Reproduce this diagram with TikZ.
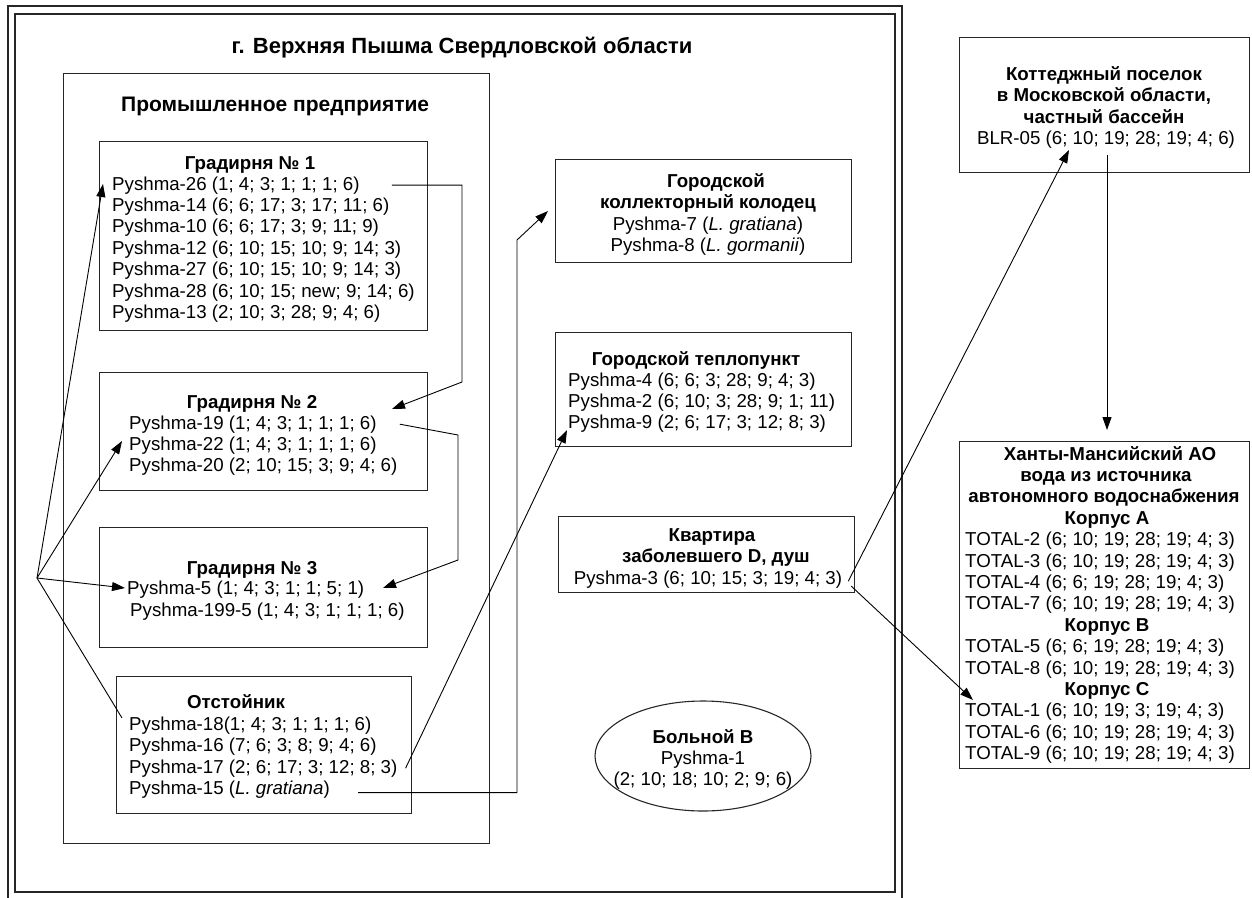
\documentclass[tikz,border=0pt]{standalone}
\usepackage{fontspec}
\setmainfont{Liberation Sans}
\usetikzlibrary{arrows.meta,shapes.geometric}
\newcommand\fs{\fontsize{18.7}{21.4}\selectfont}
\begin{document}
\begin{tikzpicture}[x=1pt,y=-1pt,
  frame/.style={draw=black!85, line width=1.2pt},
  box/.style={draw=black!85, line width=1.3pt, rectangle, inner sep=0pt, anchor=north west},
  tl/.style={anchor=base west, inner sep=0pt, font=\fs},
  tc/.style={anchor=base, inner sep=0pt, font=\fs},
  tb/.style={anchor=base, inner sep=0pt, font=\fs\bfseries},
  conn/.style={line width=0.9pt},
  arr/.style={conn, -{Triangle[length=13pt,width=9pt]}}]
\useasboundingbox (0,0) rectangle (1252,897);
% frames
\draw[frame] (8,6) rectangle (902,915);
\draw[frame] (15,14) rectangle (895,892);
\node[tb, font=\fontsize{22}{26}\selectfont\bfseries] (title) at (462,53) {г. Верхняя Пышма Свердловской области};
% industrial enterprise
\node[box, minimum width=426pt, minimum height=770pt] (ind) at (63,73) {};
\node[tl, font=\fontsize{21}{24}\selectfont\bfseries] (indt) at (121,111) {Промышленное предприятие};
% Gradirnya 1
\node[box, minimum width=328pt, minimum height=189pt] (g1) at (99,141) {};
\node[tb] (g1t) at (250,169) {Градирня № 1};
\node[tl] (p26) at (112,190) {Pyshma-26 (1; 4; 3; 1; 1; 1; 6)};
\node[tl] (p14) at (112,211.4) {Pyshma-14 (6; 6; 17; 3; 17; 11; 6)};
\node[tl] (p10) at (112,232.8) {Pyshma-10 (6; 6; 17; 3; 9; 11; 9)};
\node[tl] (p12) at (112,254.2) {Pyshma-12 (6; 10; 15; 10; 9; 14; 3)};
\node[tl] (p27) at (112,275.6) {Pyshma-27 (6; 10; 15; 10; 9; 14; 3)};
\node[tl] (p28) at (112,297) {Pyshma-28 (6; 10; 15; new; 9; 14; 6)};
\node[tl] (p13) at (112,318.4) {Pyshma-13 (2; 10; 3; 28; 9; 4; 6)};
% Gradirnya 2
\node[box, minimum width=328pt, minimum height=118pt] (g2) at (99,372) {};
\node[tb] (g2t) at (252,408) {Градирня № 2};
\node[tl] (p19) at (129,429) {Pyshma-19 (1; 4; 3; 1; 1; 1; 6)};
\node[tl] (p22) at (129,450) {Pyshma-22 (1; 4; 3; 1; 1; 1; 6)};
\node[tl] (p20) at (129,471) {Pyshma-20 (2; 10; 15; 3; 9; 4; 6)};
% Gradirnya 3
\node[box, minimum width=328pt, minimum height=120pt] (g3) at (99,527) {};
\node[tb] (g3t) at (252,574) {Градирня № 3};
\node[tl] (p5) at (127,594.5) {Pyshma-5 (1; 4; 3; 1; 1; 5; 1)};
\node[tl] (p199) at (130,616) {Pyshma-199-5 (1; 4; 3; 1; 1; 1; 6)};
% Otstoynik
\node[box, minimum width=295pt, minimum height=137pt] (ot) at (116,676) {};
\node[tb] (ott) at (236,708) {Отстойник};
\node[tl] (p18) at (129,730) {Pyshma-18(1; 4; 3; 1; 1; 1; 6)};
\node[tl] (p16) at (129,751.5) {Pyshma-16 (7; 6; 3; 8; 9; 4; 6)};
\node[tl] (p17) at (129,773) {Pyshma-17 (2; 6; 17; 3; 12; 8; 3)};
\node[tl] (p15) at (129,794.5) {Pyshma-15 (\textit{L. gratiana})};
% Kollektor
\node[box, minimum width=296pt, minimum height=103pt] (kol) at (555,159) {};
\node[tb] (kol1) at (716,187) {Городской};
\node[tb] (kol2) at (708,208.5) {коллекторный колодец};
\node[tc] (p7) at (708,230) {Pyshma-7 (\textit{L. gratiana})};
\node[tc] (p8) at (708,251.5) {Pyshma-8 (\textit{L. gormanii})};
% Teplopunkt
\node[box, minimum width=296pt, minimum height=114pt] (tep) at (555,332) {};
\node[tb] (tept) at (696,365) {Городской теплопункт};
\node[tl] (p4) at (568,386) {Pyshma-4 (6; 6; 3; 28; 9; 4; 3)};
\node[tl] (p2) at (568,407) {Pyshma-2 (6; 10; 3; 28; 9; 1; 11)};
\node[tl] (p9) at (568,428) {Pyshma-9 (2; 6; 17; 3; 12; 8; 3)};
% Kvartira
\node[box, minimum width=296pt, minimum height=76pt] (kv) at (558,516) {};
\node[tb] (kv1) at (712,541) {Квартира};
\node[tb] (kv2) at (716,562) {заболевшего D, душ};
\node[tc] (p3) at (708,584) {Pyshma-3 (6; 10; 15; 3; 19; 4; 3)};
% Patient B
\node[draw=black!85, line width=1.1pt, ellipse, minimum width=216pt, minimum height=110pt, inner sep=0pt] (bol) at (703,756) {};
\node[tb] (bol1) at (703,743) {Больной B};
\node[tc] (p1) at (703,764) {Pyshma-1};
\node[tc] (p1v) at (703,785) {(2; 10; 18; 10; 2; 9; 6)};
% Cottage
\node[box, minimum width=290pt, minimum height=135pt] (kot) at (959,37) {};
\node[tb] (kot1) at (1104,80) {Коттеджный поселок};
\node[tb] (kot2) at (1104,101.5) {в Московской области,};
\node[tb] (kot3) at (1104,123) {частный бассейн};
\node[tc] (blr) at (1106,144.5) {BLR-05 (6; 10; 19; 28; 19; 4; 6)};
% Khanty
\node[box, minimum width=290pt, minimum height=327pt] (kh) at (959,441) {};
\node[tb] (kh1) at (1110,460) {Ханты-Мансийский АО};
\node[tb] (kh2) at (1106,481.4) {вода из источника};
\node[tb] (kh3) at (1104,502.8) {автономного водоснабжения};
\node[tb] (kA) at (1107,524.2) {Корпус A};
\node[tl] (t2) at (965,545.6) {TOTAL-2 (6; 10; 19; 28; 19; 4; 3)};
\node[tl] (t3) at (965,567) {TOTAL-3 (6; 10; 19; 28; 19; 4; 3)};
\node[tl] (t4) at (965,588.4) {TOTAL-4 (6; 6; 19; 28; 19; 4; 3)};
\node[tl] (t7) at (965,609.8) {TOTAL-7 (6; 10; 19; 28; 19; 4; 3)};
\node[tb] (kB) at (1107,631.2) {Корпус B};
\node[tl] (t5) at (965,652.6) {TOTAL-5 (6; 6; 19; 28; 19; 4; 3)};
\node[tl] (t8) at (965,674) {TOTAL-8 (6; 10; 19; 28; 19; 4; 3)};
\node[tb] (kC) at (1107,695.4) {Корпус C};
\node[tl] (t1) at (965,716.8) {TOTAL-1 (6; 10; 19; 3; 19; 4; 3)};
\node[tl] (t6) at (965,738.2) {TOTAL-6 (6; 10; 19; 28; 19; 4; 3)};
\node[tl] (t9) at (965,759.6) {TOTAL-9 (6; 10; 19; 28; 19; 4; 3)};
% connector points
\coordinate (hub) at (37,578);
\coordinate (tip26) at (103,184);
\coordinate (tip22) at (122,441);
\coordinate (tip5) at (125,588);
\coordinate (end18) at (122,718);
\coordinate (b1) at (462,382);
\coordinate (tipg2) at (392,409);
\coordinate (b2a) at (458,435);
\coordinate (b2b) at (458,560);
\coordinate (tipg3) at (383,588);
\coordinate (tip9) at (567,430);
\coordinate (b15) at (517,240);
\coordinate (tipkol) at (548,211);
\coordinate (tipblr) at (1069,150);
\coordinate (tipt1) at (973,700);
\coordinate (tipkh) at (1107,430);
% connectors
\draw[arr] (hub) -- (tip26);
\draw[arr] (hub) -- (tip22);
\draw[arr] (hub) -- (tip5);
\draw[conn] (hub) -- (end18);
\draw[arr] ([xshift=32pt]p26.east) -| (b1) -- (tipg2);
\draw[arr] ([xshift=23pt]p19.east) -- (b2a) -- (b2b) -- (tipg3);
\draw[arr] ([xshift=8pt]p17.east) -- (tip9);
\draw[arr] ([xshift=28pt,yshift=-3pt]p15.east) -| (b15) -- (tipkol);
\draw[arr] ([xshift=6pt,yshift=-2pt]p3.east) -- (tipblr);
\draw[arr] ([xshift=9pt,yshift=-7pt]p3.east) -- (tipt1);
\draw[arr] ([xshift=1pt,yshift=-6pt]blr.south) -- (tipkh);
\end{tikzpicture}
\end{document}
